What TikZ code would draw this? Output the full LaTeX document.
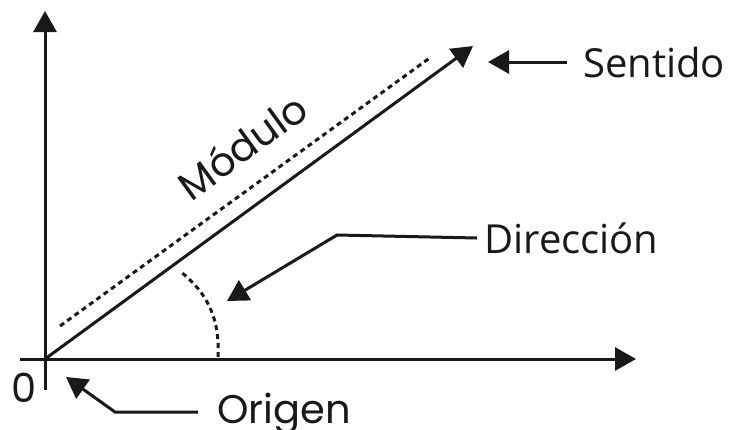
\documentclass[tikz,border=0pt]{standalone}
\usepackage{fontspec}
\setmainfont{Open Sans}
\newfontfamily\geofont{Poppins}
\usetikzlibrary{arrows.meta}
\tikzset{
  ln/.style={line width=3pt, draw=black!90},
  tri/.style={-{Triangle[length=21pt,width=23pt]}},
  dotl/.style={line width=3pt, draw=black!90, dash pattern=on 5pt off 4pt},
  lbl/.style={font=\fontsize{40}{44}\selectfont, text=black!90, inner sep=0pt},
  glbl/.style={font=\geofont\fontsize{40}{44}\selectfont, text=black!90, inner sep=0pt}
}
\begin{document}
\begin{tikzpicture}[x=1pt,y=-1pt]
\useasboundingbox (0,0) rectangle (733,429);
% axes
\coordinate (O) at (45,359);
\coordinate (xl) at (20,359);
\coordinate (xr) at (636,359);
\coordinate (yb) at (45,390);
\coordinate (yt) at (45,11);
\draw[ln,tri] (xl) -- (xr);
\draw[ln,tri] (yb) -- (yt);
% vector
\coordinate (vt) at (473,46);
\draw[ln,tri] (O) -- (vt);
% dotted module line
\coordinate (d1) at (60,326);
\coordinate (d2) at (431,57);
\draw[dotl] (d1) -- (d2);
% angle arc
\coordinate (a1) at (218,357);
\coordinate (a2) at (181,272);
\draw[dotl] (a1) .. controls (220,318) and (207,293) .. (a2);
% labels
\node[lbl, anchor=base west] (sent) at (583,77) {Sentido};
\node[lbl, anchor=base west] (dir) at (484,253) {Dirección};
\node[glbl, anchor=base west] (orig) at (217,423) {Origen};
\node[glbl, anchor=base west] (zero) at (11,402) {0};
\node[glbl, rotate=36] (mod) at (242,146) {Módulo};
% leaders
\coordinate (s1) at (567,62);
\coordinate (s2) at (488,62);
\draw[ln,tri] (s1) -- (s2);
\coordinate (r1) at (477,238);
\coordinate (r2) at (337,235);
\coordinate (r3) at (227,301);
\draw[ln,tri] (r1) -- (r2) -- (r3);
\coordinate (o1) at (198,412);
\coordinate (o2) at (115,412);
\coordinate (o3) at (66,377);
\draw[ln,tri] (o1) -- (o2) -- (o3);
\end{tikzpicture}
\end{document}
